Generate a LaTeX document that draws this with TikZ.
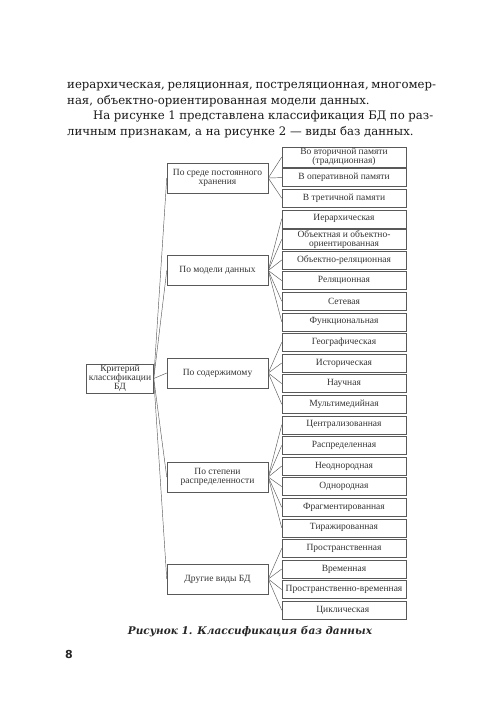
\documentclass[tikz,border=0pt]{standalone}
\usepackage{fontspec}
\setmainfont{Liberation Serif}
\newfontfamily\bookfont{DejaVu Serif}
\newfontfamily\folfont{DejaVu Sans}
\usetikzlibrary{positioning}

\tikzset{
  txtline/.style={anchor=base west, inner sep=0pt, text=black!90,
    font=\bookfont\fontsize{11.7}{13}\selectfont},
  box/.style={draw=black!65, line width=0.5pt, inner sep=1pt, align=center,
    text=black!80, font=\fontsize{9.5}{9}\selectfont},
  rootbox/.style={box, minimum width=67pt, minimum height=29pt},
  midbox/.style={box, minimum width=101pt, minimum height=30pt},
  leafbox/.style={box, minimum width=124pt, minimum height=18pt},
  link/.style={draw=black!65, line width=0.45pt}
}

\begin{document}
\begin{tikzpicture}[x=1pt, y=-1pt]
  \useasboundingbox (0,0) rectangle (500,715);
  % Text above the figure
  \node[txtline] (par1) at (67,88)
    {\makebox[366pt][s]{иерархическая, реляционная, постреляционная, многомер-}};
  \node[txtline] (par2) at (67,104)
    {ная, объектно-ориентированная модели данных.};
  \node[txtline] (par3) at (93,119)
    {\makebox[340pt][s]{На рисунке 1 представлена классификация БД по раз-}};
  \node[txtline] (par4) at (67,135)
    {личным признакам, а на рисунке 2 — виды баз данных.};
  % Leaves (right column)
  \foreach \i/\txt in {
    0/{Во вторичной памяти\\(традиционная)}, 1/В оперативной памяти,
    2/В третичной памяти, 3/Иерархическая,
    4/{Объектная и объектно-\\ориентированная}, 5/Объектно-реляционная,
    6/Реляционная, 7/Сетевая, 8/Функциональная, 9/Географическая,
    10/Историческая, 11/Научная, 12/Мультимедийная, 13/Централизованная,
    14/Распределенная, 15/Неоднородная, 16/Однородная,
    17/Фрагментированная, 18/Тиражированная, 19/Пространственная,
    20/Временная, 21/Пространственно-временная, 22/Циклическая
  } {
    \node[leafbox] (l\i) at (344,{157+20.6*\i}) {\txt};
  }
  % Criteria (middle column)
  \node[midbox] (sreda) at (217.5,178) {По среде постоянного\\хранения};
  \node[midbox] (model) at (217.5,270.5) {По модели данных};
  \node[midbox] (soder) at (217.5,373) {По содержимому};
  \node[midbox] (raspr) at (217.5,477) {По степени\\распределенности};
  \node[midbox] (drugie) at (217.5,579) {Другие виды БД};
  % Root
  \node[rootbox] (crit) at (120,378.5) {Критерий\\классификации\\БД};
  % Connectors
  \foreach \m in {sreda,model,soder,raspr,drugie}
    \draw[link] (crit.east) -- (\m.west);
  \foreach \i in {0,...,2} \draw[link] (sreda.east) -- (l\i.west);
  \foreach \i in {3,...,8} \draw[link] (model.east) -- (l\i.west);
  \foreach \i in {9,...,12} \draw[link] (soder.east) -- (l\i.west);
  \foreach \i in {13,...,18} \draw[link] (raspr.east) -- (l\i.west);
  \foreach \i in {19,...,22} \draw[link] (drugie.east) -- (l\i.west);
  % Caption and folio
  \node[text=black!85, font=\bookfont\bfseries\itshape\fontsize{10.5}{12}\selectfont]
    (caption) at (250,632) {Рисунок 1. Классификация баз данных};
  \node[anchor=base west, inner sep=0pt, text=black!85,
    font=\folfont\bfseries\fontsize{11}{12}\selectfont] (folio) at (65,658) {8};
\end{tikzpicture}
\end{document}
